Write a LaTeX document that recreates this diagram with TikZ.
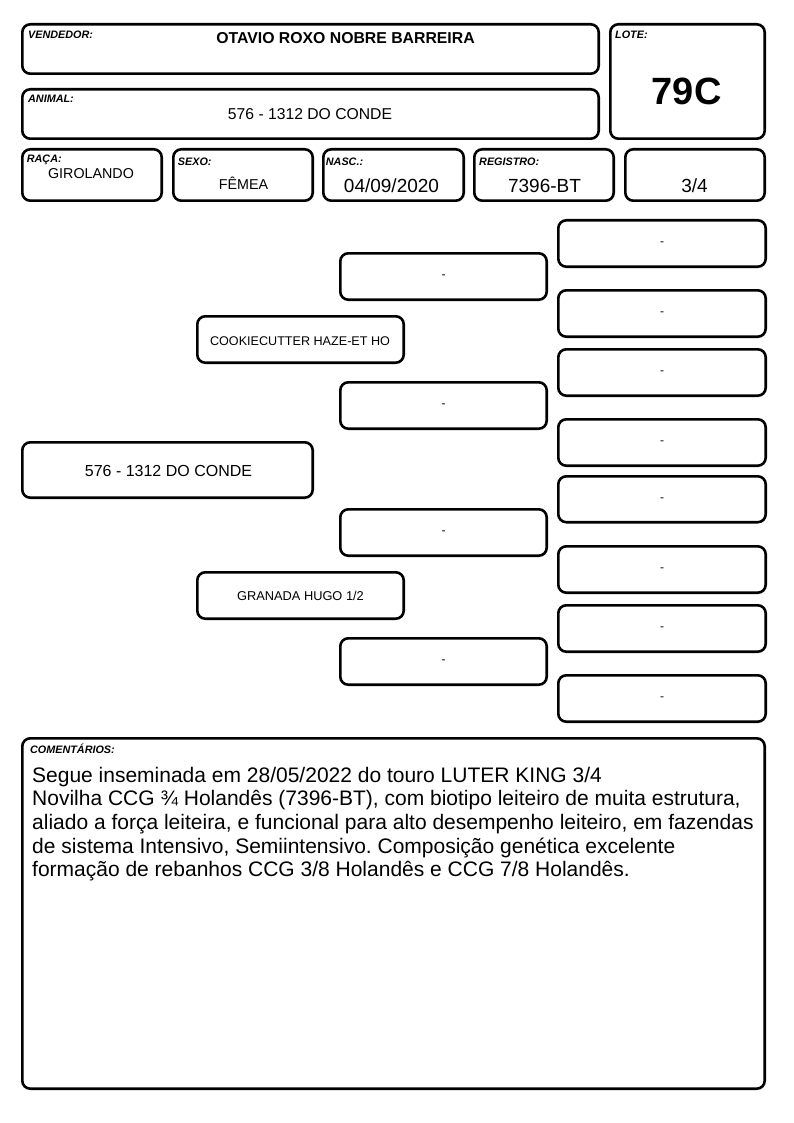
\documentclass[tikz,border=0pt]{standalone}
\usepackage{fontspec}
\setmainfont{Liberation Sans}
\frenchspacing
\newcommand\fsz[1]{\fontsize{#1}{#1}\selectfont}
\newcommand\bx[5]{\node[box, minimum width={(#4)-(#2)-2.6}, minimum height={(#5)-(#3)-2.6}] (#1) at ({((#2)+(#4))/2},{((#3)+(#5))/2}) {};}
\begin{document}
\begin{tikzpicture}[x=1pt,y=-1pt,
  box/.style={draw, line width=2.6pt, rounded corners=8pt, inner sep=0pt, rectangle},
  lbl/.style={anchor=base west, inner sep=0pt, font=\fsz{10.8}\bfseries\itshape},
  val/.style={anchor=base, inner sep=0pt},
  dashtxt/.style={inner sep=0pt, font=\fsz{12}},
  comline/.style={anchor=base west, inner sep=0pt, font=\fsz{21}}
]
\useasboundingbox (0,0) rectangle (794,1123);
% header boxes
\bx{vend}{21}{23}{600}{75}
\bx{lote}{609}{23}{766}{140}
\bx{anim}{21}{88}{600}{140}
\bx{raca}{21}{148}{163}{202}
\bx{sexo}{172}{148}{314}{202}
\bx{nasc}{322}{148}{465}{202}
\bx{reg}{473}{148}{615}{202}
\bx{frac}{624}{148}{766}{202}
% pedigree boxes
\bx{main}{21}{441}{314}{499}
\bx{sire}{196}{315}{405}{364}
\bx{dam}{196}{571}{405}{620}
\bx{g1}{339}{252}{548}{301}
\bx{g2}{339}{381}{548}{430}
\bx{g3}{339}{508}{548}{557}
\bx{g4}{339}{637}{548}{686}
\bx{gg1}{557}{219}{767}{268}
\bx{gg2}{557}{289}{767}{338}
\bx{gg3}{557}{348}{767}{397}
\bx{gg4}{557}{418}{767}{467}
\bx{gg5}{557}{475}{767}{523.5}
\bx{gg6}{557}{545}{767}{594}
\bx{gg7}{557}{604}{767}{653}
\bx{gg8}{557}{674}{767}{723}
\bx{com}{21}{737}{766}{1090}
% labels
\node[lbl] (lvend) at (28,39) {VENDEDOR:};
\node[lbl] (llote) at (615,39) {LOTE:};
\node[lbl] (lanim) at (28,102.3) {ANIMAL:};
\node[lbl] (lraca) at (26.7,162.5) {RAÇA:};
\node[lbl] (lsexo) at (177.7,165.5) {SEXO:};
\node[lbl] (lnasc) at (325.7,165.5) {NASC.:};
\node[lbl] (lreg) at (479,165.5) {REGISTRO:};
\node[lbl] (lcom) at (30,753) {COMENTÁRIOS:};
% values
\node[val, font=\fsz{15.8}\bfseries] (tvend) at (345.5,43.3) {OTAVIO ROXO NOBRE BARREIRA};
\node[val, font=\fsz{38}\bfseries] (tlote) at (686.7,105) {79C};
\node[val, font=\fsz{15.7}] (tanim) at (310,119.3) {576 - 1312 DO CONDE};
\node[val, font=\fsz{14.3}] (traca) at (91,178.3) {GIROLANDO};
\node[val, font=\fsz{14.3}] (tsexo) at (243.5,189.3) {FÊMEA};
\node[val, font=\fsz{19}] (tnasc) at (391.5,192.7) {04/09/2020};
\node[val, font=\fsz{19}] (treg) at (544.5,193) {7396-BT};
\node[val, font=\fsz{19}] (tfrac) at (694.5,193) {3/4};
% pedigree texts
\node[val, font=\fsz{16}] (tmain) at (168.5,476) {576 - 1312 DO CONDE};
\node[val, font=\fsz{12.6}] (tsire) at (300,345) {COOKIECUTTER HAZE-ET HO};
\node[val, font=\fsz{12.8}] (tdam) at (300.5,600) {GRANADA HUGO 1/2};
\foreach \n in {g1,g2,g3,g4,gg1,gg2,gg3,gg4,gg5,gg6,gg7,gg8}{
  \node[dashtxt] (t\n) at (\n.center) {-};
}
% comments
\node[comline] (tcom1) at (32,782) {Segue inseminada em 28/05/2022 do touro LUTER KING 3/4};
\node[comline] (tcom2) at (32,805.7) {Novilha CCG ¾ Holandês (7396-BT), com biotipo leiteiro de muita estrutura,};
\node[comline] (tcom3) at (32,829.4) {aliado a força leiteira, e funcional para alto desempenho leiteiro, em fazendas};
\node[comline] (tcom4) at (32,853) {de sistema Intensivo, Semiintensivo. Composição genética excelente};
\node[comline] (tcom5) at (32,876.7) {formação de rebanhos CCG 3/8 Holandês e CCG 7/8 Holandês.};
\end{tikzpicture}
\end{document}
